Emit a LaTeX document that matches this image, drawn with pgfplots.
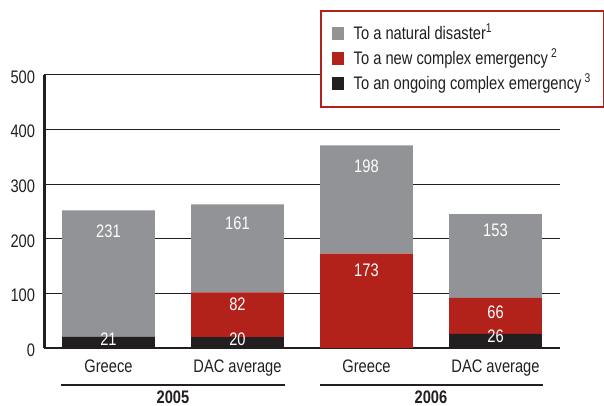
\documentclass[border=0pt]{standalone}
\usepackage{pgfplots}
\pgfplotsset{compat=1.18}
\usepackage{fontspec}
\setmainfont{Liberation Sans}[FakeStretch=0.81]
\definecolor{cgray}{RGB}{146,147,151}
\definecolor{cred}{RGB}{178,34,26}
\definecolor{cblack}{RGB}{35,31,32}
\DeclareRobustCommand{\myfs}{\fontsize{13.6}{16}\selectfont}
\begin{document}
\begin{tikzpicture}
\path[use as bounding box] (-33pt,-43.5pt) rectangle (420pt,261pt);
\begin{axis}[
  at={(0,0)}, anchor=south west,
  scale only axis, width=387pt, height=204.75pt,
  ybar stacked, bar width=0.72,
  xmin=-0.5, xmax=3.5, ymin=0, ymax=500,
  ytick={0,100,200,300,400,500},
  yticklabels={0,100,200,300,400,500},
  xtick={0,1,2,3},
  xticklabels={Greece,DAC average,Greece,DAC average},
  axis lines*=left,
  y axis line style={line width=2.25pt, cblack},
  x axis line style={line width=1.5pt, cblack},
  major tick length=0pt,
  ymajorgrids, grid style={cblack, line width=0.75pt},
  tick label style={font=\myfs, text=cblack},
  yticklabel style={anchor=east, inner xsep=0pt, xshift=-6.5pt, yshift=-1.5pt},
  xticklabel style={anchor=base, yshift=-18.75pt},
  clip=false,
  legend style={at={(0.535,1.238)}, anchor=north west, draw=cred, line width=1.5pt,
    fill=white, font=\myfs, text=cblack, row sep=1.25pt, column sep=5pt,
    inner xsep=8pt, inner ysep=8.5pt,
    nodes={inner sep=2pt, text height=10.5pt, text depth=3pt}},
  legend cell align=left,
  reverse legend,
  legend image code/.code={\fill[#1] (0pt,-4.5pt) rectangle (9.5pt,5pt);},
  after end axis/.code={
    \node[text=white, font=\myfs] at (axis cs:0,214) {231};
    \node[text=white, font=\myfs] at (axis cs:0,16) {21};
    \node[text=white, font=\myfs] at (axis cs:1,229) {161};
    \node[text=white, font=\myfs] at (axis cs:1,81) {82};
    \node[text=white, font=\myfs] at (axis cs:1,16) {20};
    \node[text=white, font=\myfs] at (axis cs:2,333) {198};
    \node[text=white, font=\myfs] at (axis cs:2,143) {173};
    \node[text=white, font=\myfs] at (axis cs:3,215) {153};
    \node[text=white, font=\myfs] at (axis cs:3,66) {66};
    \node[text=white, font=\myfs] at (axis cs:3,21) {26};
  },
]
\addplot[fill=cblack, draw=none] coordinates {(0,21) (1,20) (2,0) (3,26)};
\addlegendentry{To an ongoing complex emergency\,\textsuperscript{3}}
\addplot[fill=cred, draw=none] coordinates {(0,0) (1,82) (2,173) (3,66)};
\addlegendentry{To a new complex emergency\,\textsuperscript{2}}
\addplot[fill=cgray, draw=none] coordinates {(0,231) (1,161) (2,198) (3,153)};
\addlegendentry{To a natural disaster\textsuperscript{1}}
\end{axis}
\draw[cblack, line width=1.5pt] (12.75pt,-27.75pt) -- (180.75pt,-27.75pt);
\draw[cblack, line width=1.5pt] (207pt,-27.75pt) -- (374.25pt,-27.75pt);
\node[font=\myfs\bfseries, text=cblack] at (96.75pt,-36.6pt) {2005};
\node[font=\myfs\bfseries, text=cblack] at (290.25pt,-36.6pt) {2006};
\end{tikzpicture}
\end{document}
